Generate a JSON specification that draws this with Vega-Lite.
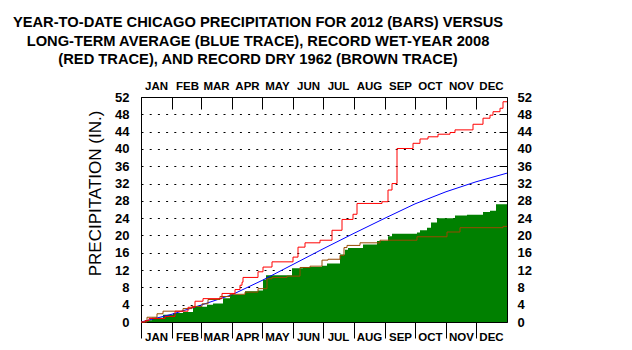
{
  "$schema": "https://vega.github.io/schema/vega-lite/v6.json",
  "width": 366,
  "height": 225,
  "autosize": {"type": "none"},
  "padding": {"left": 141, "top": 97, "right": 125, "bottom": 28},
  "background": "white",
  "config": {
    "view": {"stroke": "black", "strokeWidth": 1},
    "axis": {"labelColor": "black", "tickColor": "black", "titleColor": "black", "domain": false}
  },
  "title": {
    "text": [
      "YEAR-TO-DATE CHICAGO PRECIPITATION FOR 2012 (BARS) VERSUS",
      "LONG-TERM AVERAGE (BLUE TRACE), RECORD WET-YEAR 2008",
      "(RED TRACE), AND RECORD DRY 1962 (BROWN TRACE)"
    ],
    "font": "Liberation Sans",
    "fontWeight": "bold",
    "fontSize": 14.7,
    "lineHeight": 18.7,
    "color": "black",
    "anchor": "middle",
    "frame": "group",
    "dx": -66,
    "offset": 13
  },
  "datasets": {
    "y2012": [
      {"day": 0, "inches": 0}, {"day": 4, "inches": 0.4}, {"day": 11, "inches": 1.0}, {"day": 22, "inches": 1.7},
      {"day": 32, "inches": 2.1}, {"day": 42, "inches": 2.3}, {"day": 52, "inches": 3.5}, {"day": 66, "inches": 4.0},
      {"day": 72, "inches": 4.3}, {"day": 82, "inches": 5.5}, {"day": 89, "inches": 6.3}, {"day": 104, "inches": 7.1},
      {"day": 117, "inches": 7.3}, {"day": 122, "inches": 9.8}, {"day": 125, "inches": 10.8}, {"day": 151, "inches": 12.4},
      {"day": 162, "inches": 12.7}, {"day": 181, "inches": 13.0}, {"day": 186, "inches": 13.5}, {"day": 199, "inches": 15.6},
      {"day": 204, "inches": 16.7}, {"day": 207, "inches": 17.1}, {"day": 222, "inches": 17.9}, {"day": 236, "inches": 18.7},
      {"day": 247, "inches": 19.8}, {"day": 251, "inches": 20.4}, {"day": 276, "inches": 20.7}, {"day": 279, "inches": 21.2},
      {"day": 286, "inches": 21.8}, {"day": 290, "inches": 23.0}, {"day": 296, "inches": 24.0}, {"day": 314, "inches": 24.6},
      {"day": 326, "inches": 24.8}, {"day": 342, "inches": 25.4}, {"day": 349, "inches": 25.7}, {"day": 355, "inches": 27.2},
      {"day": 366, "inches": 27.2}
    ],
    "average": [
      {"day": 0, "inches": 0}, {"day": 31, "inches": 1.8}, {"day": 60, "inches": 3.9}, {"day": 91, "inches": 6.3},
      {"day": 121, "inches": 9.6}, {"day": 152, "inches": 13.3}, {"day": 182, "inches": 16.9}, {"day": 213, "inches": 20.5},
      {"day": 244, "inches": 24.0}, {"day": 274, "inches": 27.3}, {"day": 305, "inches": 30.1}, {"day": 335, "inches": 32.4},
      {"day": 366, "inches": 34.4}
    ],
    "y2008": [
      {"day": 0, "inches": 0}, {"day": 4, "inches": 0.3}, {"day": 8, "inches": 0.8}, {"day": 24, "inches": 1.3},
      {"day": 34, "inches": 2.5}, {"day": 47, "inches": 3.4}, {"day": 54, "inches": 4.8}, {"day": 62, "inches": 5.4},
      {"day": 81, "inches": 6.6}, {"day": 94, "inches": 7.5}, {"day": 99, "inches": 8.5}, {"day": 101, "inches": 9.2},
      {"day": 102, "inches": 10.3}, {"day": 117, "inches": 11.6}, {"day": 122, "inches": 12.7}, {"day": 131, "inches": 13.9},
      {"day": 152, "inches": 15.0}, {"day": 157, "inches": 17.3}, {"day": 164, "inches": 18.3}, {"day": 179, "inches": 18.9},
      {"day": 191, "inches": 21.2}, {"day": 201, "inches": 23.7}, {"day": 212, "inches": 24.9}, {"day": 216, "inches": 27.4},
      {"day": 241, "inches": 27.8}, {"day": 247, "inches": 30.5}, {"day": 251, "inches": 32.0}, {"day": 256, "inches": 40.1},
      {"day": 272, "inches": 41.3}, {"day": 279, "inches": 42.3}, {"day": 287, "inches": 42.8}, {"day": 297, "inches": 43.4},
      {"day": 309, "inches": 43.8}, {"day": 314, "inches": 44.4}, {"day": 332, "inches": 45.7}, {"day": 342, "inches": 47.1},
      {"day": 349, "inches": 47.8}, {"day": 352, "inches": 48.6}, {"day": 359, "inches": 49.4}, {"day": 362, "inches": 50.9},
      {"day": 366, "inches": 50.9}
    ],
    "y1962": [
      {"day": 0, "inches": 0}, {"day": 6, "inches": 1.1}, {"day": 16, "inches": 1.9}, {"day": 22, "inches": 2.5},
      {"day": 42, "inches": 3.1}, {"day": 51, "inches": 3.6}, {"day": 61, "inches": 4.2}, {"day": 67, "inches": 5.2},
      {"day": 79, "inches": 5.9}, {"day": 89, "inches": 6.4}, {"day": 104, "inches": 6.9}, {"day": 117, "inches": 7.7},
      {"day": 126, "inches": 10.0}, {"day": 131, "inches": 10.3}, {"day": 146, "inches": 10.6}, {"day": 159, "inches": 12.6},
      {"day": 169, "inches": 12.9}, {"day": 181, "inches": 14.3}, {"day": 187, "inches": 14.5}, {"day": 199, "inches": 15.4},
      {"day": 203, "inches": 17.2}, {"day": 206, "inches": 17.7}, {"day": 219, "inches": 18.3}, {"day": 239, "inches": 18.9},
      {"day": 276, "inches": 19.7}, {"day": 306, "inches": 20.8}, {"day": 319, "inches": 21.8}, {"day": 362, "inches": 22.1},
      {"day": 366, "inches": 22.1}
    ]
  },
  "resolve": {"axis": {"x": "independent", "y": "independent"}},
  "layer": [
    {
      "data": {"name": "y2012"},
      "mark": {"type": "area", "interpolate": "step-after", "color": "#008000"},
      "encoding": {
        "x": {
          "field": "day", "type": "quantitative",
          "scale": {"domain": [0, 366], "nice": false, "zero": false},
          "axis": {
            "orient": "bottom", "title": null,
            "values": [0, 31, 60, 91, 121, 152, 182, 213, 244, 274, 305, 335],
            "labelExpr": "['JAN','FEB','MAR','APR','MAY','JUN','JUL','AUG','SEP','OCT','NOV','DEC'][indexof([0,31,60,91,121,152,182,213,244,274,305,335], datum.value)]",
            "labelOffset": 15, "labelFlush": false, "labelOverlap": false, "labelBound": false,
            "tickSize": 16, "labelPadding": -7,
            "labelFont": "Liberation Sans", "labelFontWeight": "bold", "labelFontSize": 11.5,
            "grid": false
          }
        },
        "y": {
          "field": "inches", "type": "quantitative",
          "scale": {"domain": [0, 52], "nice": false},
          "axis": {
            "orient": "left",
            "values": [0, 4, 8, 12, 16, 20, 24, 28, 32, 36, 40, 44, 48, 52],
            "ticks": false, "labelPadding": 12,
            "labelFont": "Liberation Sans", "labelFontWeight": "bold", "labelFontSize": 13,
            "grid": true, "gridColor": "black", "gridOpacity": 1, "gridDash": [2, 6.2], "gridWidth": 1,
            "title": "PRECIPITATION (IN.)",
            "titleFont": "Liberation Sans", "titleFontWeight": "normal", "titleFontSize": 17,
            "titleX": -46, "titleY": 96, "titleBaseline": "middle", "titleAngle": -90
          }
        }
      }
    },
    {
      "data": {"name": "average"},
      "mark": {"type": "line", "color": "#0000FF", "strokeWidth": 1},
      "encoding": {
        "x": {
          "field": "day", "type": "quantitative",
          "scale": {"domain": [0, 366], "nice": false, "zero": false},
          "axis": {
            "orient": "top", "title": null,
            "values": [0, 31, 60, 91, 121, 152, 182, 213, 244, 274, 305, 335],
            "labelExpr": "['JAN','FEB','MAR','APR','MAY','JUN','JUL','AUG','SEP','OCT','NOV','DEC'][indexof([0,31,60,91,121,152,182,213,244,274,305,335], datum.value)]",
            "labelOffset": 15, "labelFlush": false, "labelOverlap": false, "labelBound": false,
            "tickSize": -12, "labelPadding": 18,
            "labelFont": "Liberation Sans", "labelFontWeight": "bold", "labelFontSize": 11.5,
            "grid": false
          }
        },
        "y": {
          "field": "inches", "type": "quantitative",
          "scale": {"domain": [0, 52], "nice": false},
          "axis": {
            "orient": "right", "title": null,
            "values": [0, 4, 8, 12, 16, 20, 24, 28, 32, 36, 40, 44, 48, 52],
            "tickSize": -8, "labelPadding": 18,
            "labelFont": "Liberation Sans", "labelFontWeight": "bold", "labelFontSize": 13,
            "grid": false
          }
        }
      }
    },
    {
      "data": {"name": "y1962"},
      "mark": {"type": "line", "interpolate": "step-after", "color": "#964B00", "strokeWidth": 1},
      "encoding": {
        "x": {"field": "day", "type": "quantitative", "scale": {"domain": [0, 366], "nice": false, "zero": false}, "axis": null},
        "y": {"field": "inches", "type": "quantitative", "scale": {"domain": [0, 52], "nice": false}, "axis": null}
      }
    },
    {
      "data": {"name": "y2008"},
      "mark": {"type": "line", "interpolate": "step-after", "color": "#FF0000", "strokeWidth": 1},
      "encoding": {
        "x": {"field": "day", "type": "quantitative", "scale": {"domain": [0, 366], "nice": false, "zero": false}, "axis": null},
        "y": {"field": "inches", "type": "quantitative", "scale": {"domain": [0, 52], "nice": false}, "axis": null}
      }
    }
  ]
}
